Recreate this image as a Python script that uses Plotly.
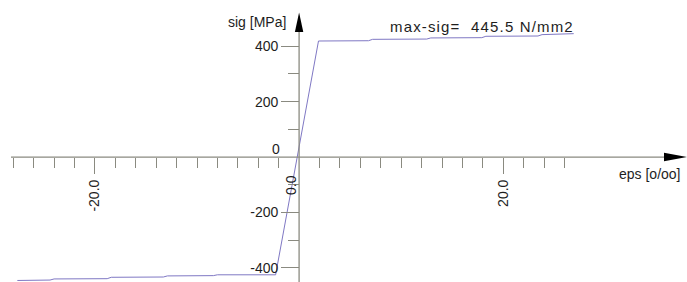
import plotly.graph_objects as go

# ---- data ----
eps = [-27.6, -24.4, -24.0, -18.8, -18.4, -13.3, -12.9, -8.4, -8.0, -2.3,
       1.9, 6.8, 7.2, 12.5, 12.9, 17.9, 18.3, 23.4, 23.8, 26.9]
sig = [-445.5, -444, -440, -439, -434, -433, -429, -428, -425, -425,
       419, 420, 425, 426, 430, 431, 436, 437, 442, 445.5]

x_major_vals = [-20, 20]
x_major_text = ["-20.0", "20.0"]
x_minor_vals = [-28, -26, -24, -22, -18, -16, -14, -12, -10, -8, -6, -4, -2,
                2, 4, 6, 8, 10, 12, 14, 16, 18, 22, 24, 26]
y_major_vals = [-400, -200, 200, 400]
y_major_text = ["-400", "-200", "200", "400"]
y_minor_vals = [-300, -100, 100, 300]

x_range = [-29.3, 38.0]
y_range = [-451, 567]

W, H = 687, 282
axis_col = "#8a8a80"
txt_col = "#1e1e1e"
font_fam = "Liberation Sans, Arial, sans-serif"

x0_paper = (0 - x_range[0]) / (x_range[1] - x_range[0])
y0_paper = (0 - y_range[0]) / (y_range[1] - y_range[0])

def px(xp):
    return xp / W

def py(yp):
    return 1 - yp / H

fig = go.Figure()
fig.add_trace(go.Scatter(x=eps, y=sig, mode="lines",
                         line=dict(color="#7f78c4", width=1),
                         hoverinfo="skip", showlegend=False))

shapes = [
    # x axis line
    dict(type="line", xref="paper", yref="paper", x0=px(11), x1=px(668),
         y0=y0_paper, y1=y0_paper, line=dict(color=axis_col, width=1.3)),
    # y axis line
    dict(type="line", xref="paper", yref="paper", x0=x0_paper, x1=x0_paper,
         y0=0, y1=py(24), line=dict(color=axis_col, width=1.3)),
]
# arrow heads
xa = x0_paper * W
ya = (1 - y0_paper) * H
shapes.append(dict(type="path", xref="paper", yref="paper",
                   path=f"M {px(xa)} {py(12.5)} L {px(xa-4.2)} {py(32)} L {px(xa+4.2)} {py(32)} Z",
                   fillcolor="black", line=dict(width=0)))
shapes.append(dict(type="path", xref="paper", yref="paper",
                   path=f"M {px(687)} {py(ya)} L {px(664)} {py(ya-4.3)} L {px(664)} {py(ya+4.3)} Z",
                   fillcolor="black", line=dict(width=0)))

annotations = [
    dict(text="sig [MPa]", xref="paper", yref="paper", x=px(288), y=py(22),
         xanchor="right", yanchor="middle", showarrow=False,
         font=dict(size=14, color=txt_col, family=font_fam)),
    dict(text="eps [o/oo]", xref="paper", yref="paper", x=px(683), y=py(174),
         xanchor="right", yanchor="middle", showarrow=False,
         font=dict(size=14, color=txt_col, family=font_fam)),
    dict(text='<span style="letter-spacing:1.15px">max-sig=\u00a0\u00a0445.5 N/mm2</span>',
         xref="paper", yref="paper", x=px(388), y=py(26),
         xanchor="left", yanchor="middle", showarrow=False,
         font=dict(size=15, color=txt_col, family=font_fam)),
    dict(text="0", xref="paper", yref="paper", x=px(282), y=py(149),
         xanchor="right", yanchor="middle", showarrow=False,
         font=dict(size=14, color=txt_col, family=font_fam)),
    dict(text="0.0", xref="paper", yref="paper", x=px(291), y=py(173),
         xanchor="center", yanchor="top", textangle=-90, showarrow=False,
         font=dict(size=14, color=txt_col, family=font_fam)),
]

fig.update_layout(
    width=W, height=H,
    margin=dict(l=0, r=0, t=0, b=0),
    paper_bgcolor="white", plot_bgcolor="white",
    shapes=shapes, annotations=annotations,
    xaxis=dict(range=x_range, domain=[0, 1], anchor="free", position=y0_paper,
               showgrid=False, zeroline=False, showline=False,
               tickmode="array", tickvals=x_major_vals, ticktext=x_major_text,
               ticks="outside", ticklen=16, tickcolor=axis_col, tickwidth=1.3,
               tickangle=-90, tickfont=dict(size=14, color=txt_col, family=font_fam),
               minor=dict(tickmode="array", tickvals=x_minor_vals, ticks="outside",
                          ticklen=10, tickcolor=axis_col, tickwidth=1.3, showgrid=False)),
    yaxis=dict(range=y_range, domain=[0, 1], anchor="free", position=x0_paper,
               showgrid=False, zeroline=False, showline=False,
               tickmode="array", tickvals=y_major_vals, ticktext=y_major_text,
               ticks="outside", ticklen=18, tickcolor=axis_col, tickwidth=1.3,
               tickfont=dict(size=14, color=txt_col, family=font_fam),
               minor=dict(tickmode="array", tickvals=y_minor_vals, ticks="outside",
                          ticklen=11, tickcolor=axis_col, tickwidth=1.3, showgrid=False)),
)

fig.write_html("out.html", config={"displayModeBar": False},
               post_script="document.body.style.margin='0';document.body.style.overflow='hidden';")
